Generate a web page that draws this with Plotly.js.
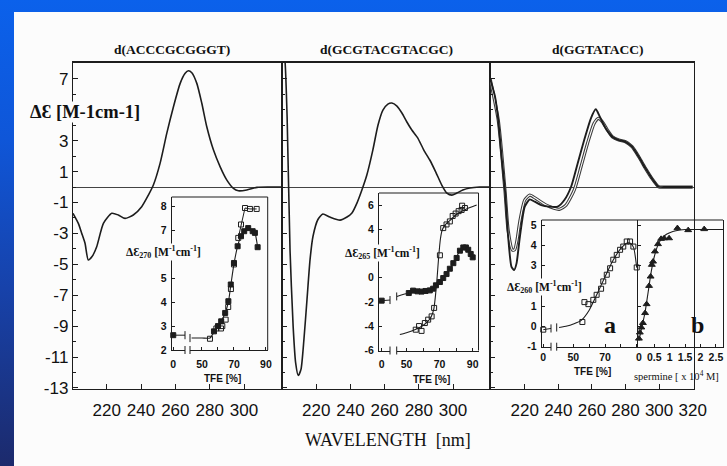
<!DOCTYPE html>
<html><head><meta charset="utf-8">
<script src="https://cdn.plot.ly/plotly-3.0.1.min.js"></script>
<style>
html,body{margin:0;padding:0;width:727px;height:466px;overflow:hidden;}
body{background:linear-gradient(to bottom,#0b61eb 0%,#0f56d8 30%,#1742aa 62%,#1c2a6c 100%);position:relative;}
#paper{position:absolute;left:14px;top:12px;width:713px;height:454px;background:#fcfcfc;}
#chart{position:absolute;left:0;top:0;width:727px;height:466px;}
</style></head><body><div id="paper"></div><div id="chart"></div>
<script>
// ---------- main CD spectra ----------
const titles = ['d(ACCCGCGGGT)', 'd(GCGTACGTACGC)', 'd(GGTATACC)'];
const wl1 = [200.4,203.5,205.5,207.4,209.3,211.5,214.2,218.1,223,226.8,230.7,235.5,240.4,244.3,247.2,251.1,255,258.9,262.8,265.7,267.6,269.6,272.5,275.4,278.3,282.2,286.1,290,293.8,296.7,301.6,307.5,315,322];
const cd1 = [-1.7,-2.35,-3.0,-3.64,-4.72,-4.5,-3.86,-2.35,-1.7,-1.81,-2.03,-1.81,-1.27,-0.52,0.13,1.53,3.47,5.2,6.71,7.36,7.53,7.4,6.71,5.42,3.9,2.39,1.31,0.45,-0.08,-0.24,-0.19,-0.02,0,0];
const wl2 = [200,201.8,203,204.7,206.5,208,209.5,211.1,212.8,214.6,216.4,218.1,221,223.9,228,233.9,238,240.9,243.8,246.7,249.6,253.1,256.1,259,261.9,264.2,267.2,270.1,273,275.9,279.4,282.9,286.4,289.9,293.4,296.4,299.3,302.2,305.7,309.8,315.6,321.6];
const cd2 = [10,8.1,4.5,-4.1,-9.0,-11.4,-12.2,-11.8,-9.9,-7.3,-4.7,-3.2,-2.1,-1.75,-1.94,-2.14,-1.94,-1.68,-1.04,-0.19,0.78,2.39,4.0,4.98,5.37,5.44,5.24,4.79,4.21,3.69,3.17,2.39,1.75,0.97,0.13,-0.39,-0.52,-0.39,-0.19,-0.06,0,0];
const wl3 = [199.3,202.3,204.2,206.2,208.2,210.1,212.1,213.7,215.1,217.1,220,223,225.9,229.8,234.7,239.6,243.6,247.6,251.5,255.4,259.4,262.3,264.7,268.2,272.1,276,280,283.9,287.9,291.9,295.7,299.7,303.7,310,320];
const cd3 = [7.03,5.85,4.34,1.96,-0.19,-3.2,-5.16,-5.37,-4.94,-3.22,-1.27,-0.8,-0.95,-1.17,-1.27,-1.27,-0.84,0.02,1.53,3.04,4.45,5.03,4.55,3.8,3.26,3.04,2.93,2.61,1.96,1.21,0.56,0.02,0,0,0];
const wl3b = [199.3,204.2,208.2,210.1,212.7,214,215.4,217.1,220,223,226.5,232.8,240.6,244.6,249.5,253.5,257.4,261.3,263.9,266.2,269.2,272.1,276,280,283.9,287.9,291.9,295.7,299.7,303.7,310,320];
const cd3b = [7.03,4.34,-0.19,-2.8,-4.08,-4.05,-3.43,-2.2,-0.84,-0.52,-0.73,-1.17,-1.44,-1.17,-0.19,1.31,2.83,4.12,4.45,4.23,3.69,3.26,3.04,2.93,2.61,1.96,1.21,0.56,0.02,0,0,0];
const wlTicks12 = [220,240,260,280,300];
const wlTicks3 = [220,240,260,280,300,320];
const cdTicks = [7,3,1,-1,-3,-5,-7,-9,-11,-13];

// ---------- inset 1 : dE270 vs TFE ----------
const tfe1A = [0], f1A = [2.62];
const tfe1AL = [0, 7.5], l1A = [2.62, 2.62];
const tfe1F = [57.5,60,62,64.5,66.5,68,70,72.3,74.4,76.4,78.9,81.7,83.1,84.8];
const f1F   = [2.78,3.0,3.2,3.55,4.04,4.74,5.64,6.34,6.76,6.97,7.1,6.97,6.9,6.3];
const tfe1O = [55,59,61.9,62.7,64.8,66.4,68.1,70];
const o1O   = [2.47,2.9,2.9,3.0,3.27,3.8,4.55,5.58];
const tfe1T = [72.7,74.4,76.9,80,84.2];
const o1T   = [6.69,7.25,7.94,7.9,7.9];
const tfe1L = [43.5,50,55,57.5,60,62,64.5,66.5,68,70,72.3,74.4,76.4,78.9,81.7,83.1,84.8];
const l1    = [2.5,2.5,2.5,2.75,3.0,3.2,3.55,4.0,4.7,5.6,6.35,6.78,6.97,7.1,6.98,6.9,6.3];
const i1Ticks = [2,3,4,5,7,8];
const tfeTicks = [50,70,90];

// ---------- inset 2 : dE265 vs TFE ----------
const tfe2A = [0], f2A = [-1.9];
const tfe2AL = [0, 5], l2A = [-1.9, -1.85];
const tfe2F = [51.4,54,56.7,59.1,61.5,64.1,66.1,67.8,70.2,72.2,74.2,76.2,78.3,80.3,82.3,84.3,85.9,87.3,88.8,90];
const f2F   = [-1.27,-1.07,-1.13,-1.15,-1.1,-1.05,-0.91,-0.63,-0.36,-0.03,0.3,0.74,1.2,1.63,2.23,2.5,2.5,2.31,1.96,1.68];
const tfe2FL = [44.2,51.4,56.7,61.5,66.1,67.8,70.2,74.2,78.3,82.3,84.3,85.9,87.3,88.8,90];
const l2F    = [-1.55,-1.27,-1.13,-1.1,-0.91,-0.63,-0.36,0.3,1.2,2.23,2.5,2.5,2.31,1.96,1.68];
const tfe2O = [55.6,57.6,59.1,61.1,63.1,65.2,66.7,70.2,72.2,74.2,76.2,77.9,79.7,81.5,83.3,83.6,85.3];
const o2O   = [-4.3,-4.0,-4.4,-3.75,-3.47,-3.2,-2.5,1.85,4.1,4.4,4.65,5.1,5.3,5.5,5.6,5.95,5.76];
const tfe2L = [46,50,55,60,63,65,66.5,67.5,68.5,69.5,70.5,71.5,73,76,80,85,92.4];
const l2O   = [-4.7,-4.55,-4.3,-3.95,-3.6,-3.2,-2.6,-1.5,0,1.8,3.2,3.9,4.3,4.7,5.2,5.6,6.0];
const i2Ticks = [-6,-4,-2,0,4,6];

// ---------- inset 3a : dE260 vs TFE ----------
const tfe3A = [0], o3A = [-0.16];
const tfe3AL = [0, 4.9], l3A = [-0.16, -0.1];
const tfe3O = [55.7,57,59.5,62.6,64.7,67.5,68.9,71.1,73.2,75.2,77.4,79.5,81.5,83.7,85.8,87.9,90];
const o3O   = [0.22,1.2,1.1,1.31,1.56,1.86,2.22,2.55,2.87,3.29,3.53,3.78,3.94,4.19,4.19,3.94,2.91];
const tfe3L = [41,46,50,55,60,65,70,75,80,84,86,88,90];
const l3    = [-0.05,0.02,0.12,0.3,0.8,1.6,2.45,3.25,3.85,4.12,4.1,3.9,2.9];
const i3Ticks = [-1,0,1,3,4,5];
const tfeTicks3 = [50,70];
// ---------- inset 3b : dE260 vs spermine ----------
const sperm  = [0.0,0.03,0.08,0.13,0.2,0.25,0.33,0.38,0.42,0.46,0.52,0.62,0.72,0.82,0.98,1.25,1.6,2.12];
const vSperm = [-0.6,-0.3,-0.05,0.17,0.66,1.1,2.0,2.46,3.04,3.2,3.7,4.06,4.32,4.35,4.35,4.85,4.75,4.8];
const spermL = [0,0.1,0.2,0.3,0.4,0.5,0.6,0.7,0.85,1.0,1.2,1.5,2.0,2.73];
const vSpermL= [-0.7,0.0,0.7,1.7,2.7,3.45,3.95,4.25,4.5,4.62,4.72,4.78,4.78,4.78];
const spermTicks = [0,0.5,1,1.5,2,2.5];

// ---------- helpers ----------
const W=727,H=466;
const dx=(a,b)=>[a/W,b/W];
const dy=(t,b)=>[1-b/H,1-t/H];
const fx=p=>p/W, fy=p=>1-p/H;
const INK='#1d1d1d';
function ln(x,y,xa,ya,w,c,shape){return {type:'scatter',mode:'lines',x:x,y:y,xaxis:xa,yaxis:ya,hoverinfo:'skip',
  line:{color:c||INK,width:w||1.6,shape:shape||'spline',smoothing:0.6}};}
function mk(x,y,xa,ya,sym,size){return {type:'scatter',mode:'markers',x:x,y:y,xaxis:xa,yaxis:ya,hoverinfo:'skip',cliponaxis:false,
  marker:{symbol:sym,size:size||5,color:INK,line:{color:INK,width:1}}};}
function lm(x,y,xa,ya,sym){const t=mk(x,y,xa,ya,sym);t.mode='lines+markers';t.line={color:INK,width:1};return t;}

const traces = [
  ln(wl1,cd1,'x','y'),
  ln(wl2,cd2,'x2','y2'),
  ln(wl3b,cd3b,'x3','y3',3.2,'#3a3a3a'),
  ln(wl3b,cd3b,'x3','y3',1.1,'#fcfcfc'),
  ln(wl3,cd3,'x3','y3',1.9),
  // inset 1
  ln(tfe1AL,l1A,'x4','y4',1,INK,'linear'), mk(tfe1A,f1A,'x4','y4','square'),
  ln(tfe1L,l1,'x5','y4',1.1), mk(tfe1F,f1F,'x5','y4','square'),
  mk(tfe1O,o1O,'x5','y4','square-open'), lm(tfe1T,o1T,'x5','y4','square-open'),
  // inset 2
  ln(tfe2AL,l2A,'x6','y5',1,INK,'linear'), mk(tfe2A,f2A,'x6','y5','square'),
  ln(tfe2FL,l2F,'x7','y5',1.1), mk(tfe2F,f2F,'x7','y5','square'),
  ln(tfe2L,l2O,'x7','y5',1.1), mk(tfe2O,o2O,'x7','y5','square-open'),
  // inset 3a
  ln(tfe3AL,l3A,'x8','y6',1,INK,'linear'), mk(tfe3A,o3A,'x8','y6','square-open'),
  ln(tfe3L,l3,'x9','y6',1.1), mk(tfe3O,o3O,'x9','y6','square-open'),
  // inset 3b
  ln(spermL,vSpermL,'x10','y7',1.1), mk(sperm,vSperm,'x10','y7','triangle-up',6)
];

const mainFont={family:'Liberation Sans, Arial, sans-serif',size:17,color:'#111'};
function mainX(dom,range,anchor,tv){return {domain:dom,range:range,anchor:anchor,showline:true,linecolor:INK,linewidth:1.2,mirror:true,
  ticks:'inside',ticklen:5,tickcolor:INK,tickvals:tv,ticktext:tv.map(String),tickfont:mainFont,showgrid:false,zeroline:false,ticklabelstandoff:5};}
function mainY(anchor,labels){return {domain:dy(62.5,389),range:[-13.07,8.06],anchor:anchor,showline:true,linecolor:INK,linewidth:1.2,mirror:true,
  ticks:'inside',ticklen:5,tickcolor:INK,tickvals:cdTicks,ticktext:cdTicks.map(String),showticklabels:labels,tickfont:mainFont,
  minor:{dtick:1,tick0:0,ticks:'inside',ticklen:3,tickcolor:INK},
  showgrid:false,zeroline:true,zerolinecolor:'#444',zerolinewidth:1};}
const inFont={family:'Liberation Sans, Arial, sans-serif',size:10.5,color:'#111',weight:'bold'};
function inX(dom,range,anchor,tv,tt,standoff,minorDt){const a={domain:dom,range:range,anchor:anchor,showline:true,linecolor:INK,linewidth:1,
  ticks:'inside',ticklen:3,tickcolor:INK,tickvals:tv,ticktext:tt,tickfont:inFont,showgrid:false,zeroline:false,ticklabelstandoff:standoff};
  if(minorDt){a.minor={dtick:minorDt,tick0:0,ticks:'inside',ticklen:3,tickcolor:INK};}
  return a;}
function inY(dom,range,anchor,tv,labels,mirror){return {domain:dom,range:range,anchor:anchor,showline:true,linecolor:INK,linewidth:1,mirror:mirror||false,
  ticks:'inside',ticklen:3,tickcolor:INK,tickvals:tv,ticktext:tv.map(String),showticklabels:labels,tickfont:inFont,showgrid:false,zeroline:false,ticklabelstandoff:2};}

const layout = {
  width:W,height:H,margin:{l:0,r:0,t:0,b:0},paper_bgcolor:'rgba(0,0,0,0)',plot_bgcolor:'rgba(0,0,0,0)',showlegend:false,
  font:{family:'Liberation Sans, Arial, sans-serif',color:'#111'},
  xaxis: mainX(dx(73,282),[200.4,322.1],'y',wlTicks12),
  xaxis2:mainX(dx(282,490),[200,321.6],'y2',wlTicks12),
  xaxis3:mainX(dx(490,693.5),[199.3,320.5],'y3',wlTicks3),
  yaxis: mainY('x',true),
  yaxis2:mainY('x2',false),
  yaxis3:mainY('x3',false),
  // inset 1
  xaxis4:inX(dx(171.7,185),[-1,7.5],'y4',[0],['0'],4),
  xaxis5:inX(dx(190,267.7),[42.5,91.1],'y4',tfeTicks,tfeTicks.map(String),4,10),
  yaxis4:inY(dy(197,350),[2,8.4],'x4',i1Ticks,true),
  // inset 2
  xaxis6:inX(dx(379,390),[-1.6,5],'y5',[0],['0'],4),
  xaxis7:inX(dx(396.7,478.5),[44.1,93.5],'y5',tfeTicks,tfeTicks.map(String),4,10),
  yaxis5:inY(dy(193,350.5),[-6.02,7],'x6',i2Ticks,true),
  // inset 3a
  xaxis8:inX(dx(541.7,551),[-1,4.9],'y6',[0],['0'],1),
  xaxis9:inX(dx(556.7,638.3),[39.5,91],'y6',tfeTicks3,tfeTicks3.map(String),1,10),
  yaxis6:inY(dy(220,346.7),[-1,5.25],'x8',i3Ticks,true),
  // inset 3b
  xaxis10:inX(dx(638.3,723),[-0.02,2.73],'y7',spermTicks,spermTicks.map(String),1),
  yaxis7:inY(dy(220,346.7),[-1,5.25],'x10',i3Ticks,false,true),
  shapes:[],
  annotations:[]
};

function seg(x0,y0,x1,y1){layout.shapes.push({type:'line',xref:'paper',yref:'paper',x0:fx(x0),y0:fy(y0),x1:fx(x1),y1:fy(y1),line:{color:INK,width:1}});}
function segY(xp,v,h,yref){layout.shapes.push({type:'line',xref:'paper',yref:yref,x0:fx(xp),x1:fx(xp),y0:v-h,y1:v+h,line:{color:INK,width:1}});}
// inset frames
seg(171.7,197,267.7,197); seg(267.7,197,267.7,350);
seg(379,193,478.5,193); seg(478.5,193,478.5,350.5);
seg(541.7,220,723,220);
// axis breaks
[[185,350],[190,350],[390,350.5],[396.7,350.5],[551,346.7],[556.7,346.7]].forEach(p=>seg(p[0],p[1]-4,p[0],p[1]+4));
segY(185,l1A[1],0.17,'y4'); segY(190,l1[0],0.17,'y4');
segY(390,l2A[1],0.33,'y5'); segY(396.7,l2F[0],0.33,'y5');
segY(551,l3A[1],0.2,'y6'); segY(556.7,l3[0],0.2,'y6');

function ann(text,x,y,font,extra){layout.annotations.push(Object.assign({text:text,xref:'paper',yref:'paper',x:fx(x),y:fy(y),
  xanchor:'center',yanchor:'middle',showarrow:false,font:font},extra||{}));}
const serifB={family:'Liberation Serif, Times New Roman, serif',size:13.5,color:'#111',weight:'bold'};
ann(titles[0],172,50,serifB); ann(titles[1],386,50,serifB); ann(titles[2],598,50,serifB);
ann('ΔƐ [M-1cm-1]',85,112,{family:'Liberation Serif, serif',size:18.5,color:'#111',weight:'bold'},{bgcolor:'#fcfcfc',borderpad:0});
ann('WAVELENGTH  [nm]',388,440,{family:'Liberation Serif, serif',size:18,color:'#111'});
const inLab={family:'Liberation Serif, serif',size:11.5,color:'#111',weight:'bold'};
ann('ΔƐ<sub>270</sub> [M<sup>-1</sup>cm<sup>-1</sup>]',163.5,252,inLab,{bgcolor:'#fcfcfc',borderpad:0});
ann('ΔƐ<sub>265</sub> [M<sup>-1</sup>cm<sup>-1</sup>]',382,253,inLab,{bgcolor:'#fcfcfc',borderpad:0});
ann('ΔƐ<sub>260</sub> [M<sup>-1</sup>cm<sup>-1</sup>]',544,286.7,inLab,{bgcolor:'#fcfcfc',borderpad:0});
const tfeF={family:'Liberation Sans, Arial, sans-serif',size:10,color:'#111',weight:'bold'};
ann('TFE [%]',222.5,378,tfeF); ann('TFE [%]',431.7,379,tfeF); ann('TFE [%]',592.5,371,tfeF);
ann('spermine [ x 10<sup>4</sup> M]',676,375,{family:'Liberation Serif, serif',size:10.5,color:'#111'});
const abF={family:'Liberation Serif, serif',size:24,color:'#111',weight:'bold'};
ann('a',610,325,abF); ann('b',697,325,abF);

Plotly.newPlot('chart',traces,layout,{staticPlot:true,displayModeBar:false});
</script></body></html>
